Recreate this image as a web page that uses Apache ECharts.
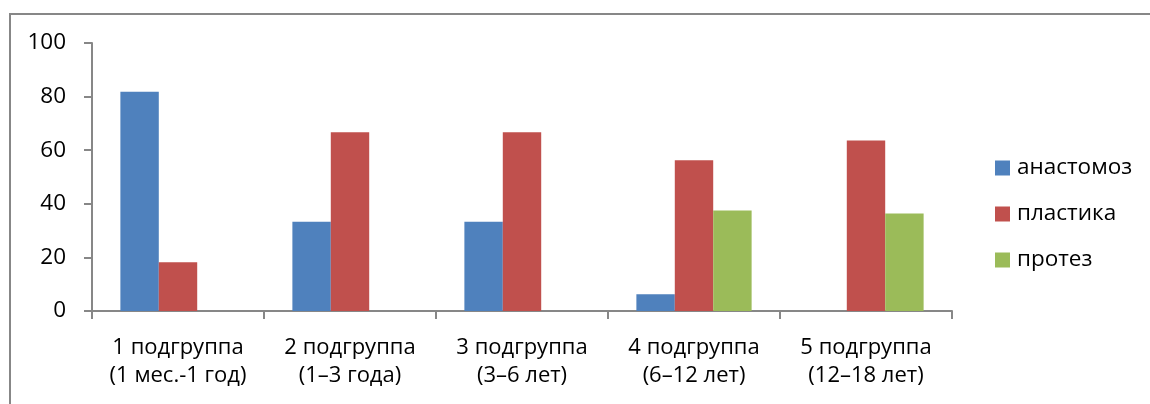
<!DOCTYPE html>
<html>
<head>
<meta charset="utf-8">
<script src="https://cdn.jsdelivr.net/npm/echarts@6/dist/echarts.min.js"></script>
<style>
  html, body { margin: 0; padding: 0; background: #fff; }
  #frame { position: absolute; left: 9px; top: 13px; width: 1200px; height: 500px;
           border-left: 2px solid #878787; border-top: 2px solid #878787; }
  #chart { position: absolute; left: 0; top: 0; width: 1150px; height: 404px; }
</style>
</head>
<body>
<div id="frame"></div>
<div id="chart"></div>
<script>
// Subgroups by age
const categories = [
  '1 подгруппа\n(1 мес.-1 год)',
  '2 подгруппа\n(1–3 года)',
  '3 подгруппа\n(3–6 лет)',
  '4 подгруппа\n(6–12 лет)',
  '5 подгруппа\n(12–18 лет)'
];
// Share of each operation type, %
const anastomoz = [81.8, 33.3, 33.3, 6.25, 0];
const plastika  = [18.2, 66.7, 66.7, 56.25, 63.6];
const protez    = [0, 0, 0, 37.5, 36.4];
const yTicks = { min: 0, max: 100, interval: 20 };

const font = '"Open Sans", sans-serif';
const axisGray = '#878787';

const chart = echarts.init(document.getElementById('chart'));
chart.setOption({
  animation: false,
  grid: { left: 92, top: 43, right: 198, bottom: 93 },
  legend: {
    orient: 'vertical',
    left: 990, top: 151,
    itemWidth: 15, itemHeight: 15, itemGap: 22,
    icon: 'rect',
    textStyle: { fontFamily: font, fontSize: 22.5, lineHeight: 24, color: '#000', padding: [0, 0, 0, 2] },
    data: ['анастомоз', 'пластика', 'протез']
  },
  xAxis: {
    type: 'category',
    data: categories,
    axisLine: { lineStyle: { color: axisGray, width: 2 } },
    axisTick: { show: true, length: 8, alignWithLabel: false, lineStyle: { color: axisGray, width: 2 } },
    axisLabel: { fontFamily: font, fontSize: 22, color: '#000', lineHeight: 28, margin: 23, interval: 0 }
  },
  yAxis: {
    type: 'value',
    min: yTicks.min, max: yTicks.max, interval: yTicks.interval,
    axisLine: { show: true, lineStyle: { color: axisGray, width: 2 } },
    axisTick: { show: true, length: 8, lineStyle: { color: axisGray, width: 2 } },
    splitLine: { show: false },
    axisLabel: { fontFamily: font, fontSize: 22.5, color: '#000', margin: 26 }
  },
  series: [
    { name: 'анастомоз', type: 'bar', data: anastomoz, itemStyle: { color: '#4f81bd' },
      barGap: '0%', barCategoryGap: '33%' },
    { name: 'пластика', type: 'bar', data: plastika, itemStyle: { color: '#c0504d' } },
    { name: 'протез', type: 'bar', data: protez, itemStyle: { color: '#9bbb59' } }
  ]
});
</script>
</body>
</html>
